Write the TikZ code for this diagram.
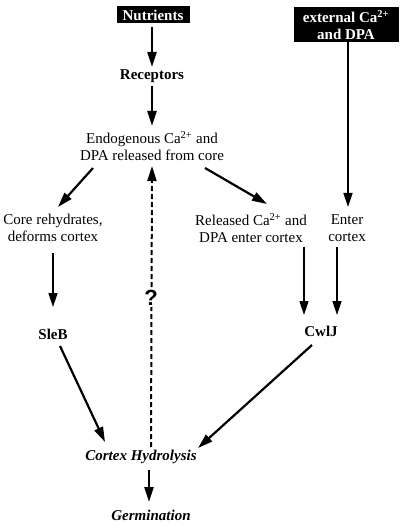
\documentclass[tikz,border=0pt]{standalone}
\usepackage{fontspec}
\setmainfont{Liberation Serif}
\newfontfamily\qfont{Liberation Sans}
\usetikzlibrary{arrows.meta,calc}
\begin{document}
\begin{tikzpicture}[x=1pt,y=-1pt,
  every node/.style={inner sep=0pt,font=\fontsize{15}{17.5}\selectfont,align=center},
  boldtext/.style={font=\fontsize{15}{17.5}\selectfont\bfseries},
  blackbox/.style={fill=black,text=white,font=\fontsize{15}{17.5}\selectfont\bfseries},
  arr/.style={line width=2.2pt,-{Triangle[length=15pt,width=9pt]}},
  thinarr/.style={line width=1.6pt,-{Triangle[length=14pt,width=9pt]}},
  dasharr/.style={line width=2pt,dash pattern=on 5pt off 3pt,-{Triangle[length=15pt,width=9pt]}}]
\useasboundingbox (0,0) rectangle (404,526);
\node[blackbox,minimum width=73pt,minimum height=17pt] (nut) at (153,15) {Nutrients};
\node[blackbox,minimum width=105pt,minimum height=35pt] (ext) at (346,25) {external Ca\textsuperscript{2+}\\and DPA};
\node[boldtext] (rec) at (152,76) {Receptors};
\node (endo) at (152,146) {Endogenous Ca\textsuperscript{2+} and\\DPA released from core};
\node (core) at (53,228) {Core rehydrates,\\deforms cortex};
\node (rel) at (251,228) {Released Ca\textsuperscript{2+} and\\DPA enter cortex};
\node (ent) at (347,228) {Enter\\cortex};
\node[boldtext] (sleb) at (53,334) {SleB};
\node[boldtext] (cwlj) at (321,331) {CwlJ};
\node[font=\fontsize{15}{17.5}\selectfont\bfseries\itshape] (ch) at (141,457) {Cortex Hydrolysis};
\node[font=\fontsize{15}{17.5}\selectfont\bfseries\itshape] (germ) at (151,515) {Germination};
\draw[arr] ($(nut)+(-1,12)$) -- ($(rec)+(0,-9)$);
\draw[arr] ($(rec)+(0,10)$) -- ($(endo)+(0,-20)$);
\draw[arr] ($(endo)+(-59,22)$) -- ($(core)+(5,-21)$);
\draw[arr] ($(endo)+(53,22)$) -- ($(rel)+(16,-24)$);
\draw[thinarr] ($(ext)+(2,17)$) -- ($(ent)+(1,-21)$);
\draw[thinarr] ($(core)+(0,25)$) -- ($(sleb)+(0,-27)$);
\draw[thinarr] ($(rel)+(53,19)$) -- ($(cwlj)+(-17,-16)$);
\draw[thinarr] ($(ent)+(-10,19)$) -- ($(cwlj)+(16,-16)$);
\draw[arr] ($(sleb)+(7,12)$) -- ($(ch)+(-36,-15)$);
\draw[arr] ($(cwlj)+(-9,14)$) -- ($(ch)+(57,-9)$);
\draw[arr] ($(ch)+(8,13)$) -- ($(germ)+(-2,-13)$);
\draw[dasharr] ($(ch)+(10,-10)$) -- ($(endo)+(0,20)$);
\node[fill=white,inner sep=1pt,font=\qfont\fontsize{22}{24}\selectfont\bfseries] (q) at (151,298) {?};
\end{tikzpicture}
\end{document}
